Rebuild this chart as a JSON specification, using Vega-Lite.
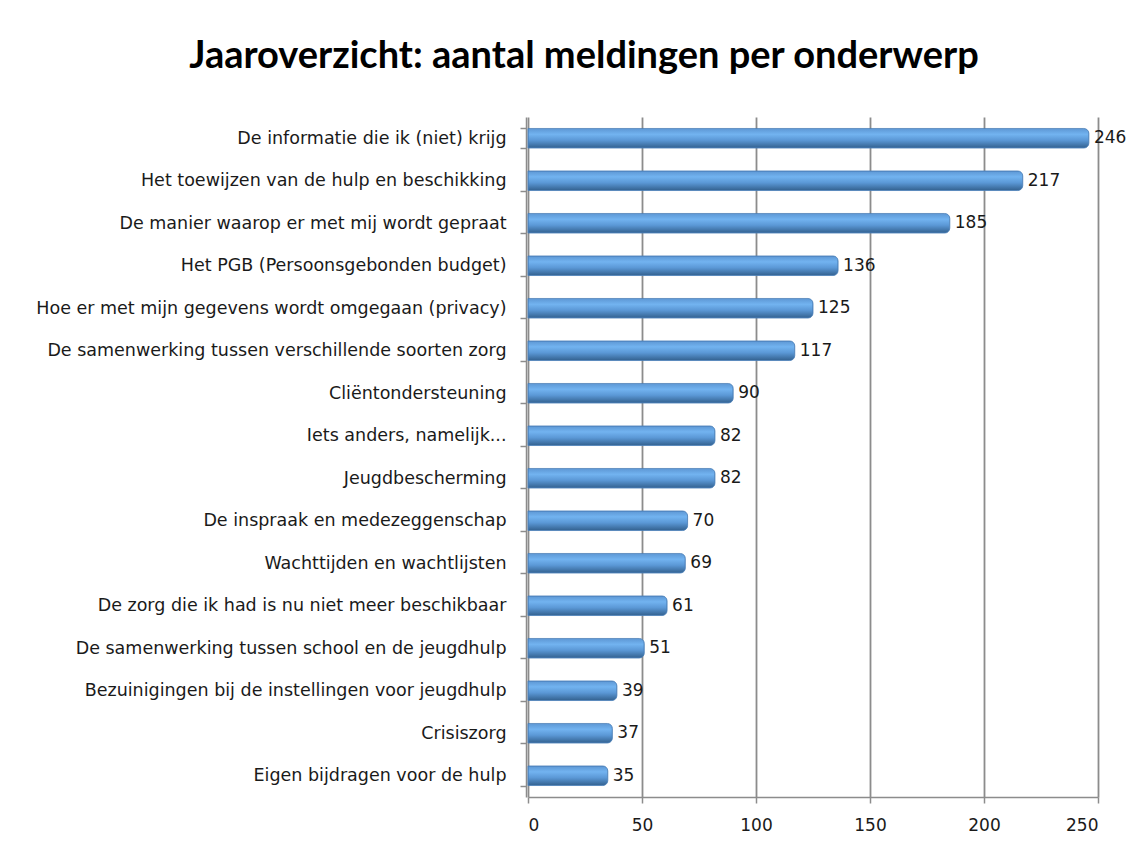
{
  "$schema": "https://vega.github.io/schema/vega-lite/v6.json",
  "autosize": {"type": "none"},
  "width": 570,
  "height": 680,
  "padding": {"left": 528, "top": 117, "right": 46, "bottom": 55},
  "background": "white",
  "title": {
    "text": "Jaaroverzicht: aantal meldingen per onderwerp",
    "font": "Lato",
    "fontSize": 38,
    "fontWeight": "bold",
    "color": "#000000",
    "anchor": "middle",
    "frame": "group",
    "dx": -229,
    "offset": 32
  },
  "data": {
    "values": [
      {"onderwerp": "De informatie die ik (niet) krijg", "aantal": 246},
      {"onderwerp": "Het toewijzen van de hulp en beschikking", "aantal": 217},
      {"onderwerp": "De manier waarop er met mij wordt gepraat", "aantal": 185},
      {"onderwerp": "Het PGB (Persoonsgebonden budget)", "aantal": 136},
      {"onderwerp": "Hoe er met mijn gegevens wordt omgegaan (privacy)", "aantal": 125},
      {"onderwerp": "De samenwerking tussen verschillende soorten zorg", "aantal": 117},
      {"onderwerp": "Cliëntondersteuning", "aantal": 90},
      {"onderwerp": "Iets anders, namelijk...", "aantal": 82},
      {"onderwerp": "Jeugdbescherming", "aantal": 82},
      {"onderwerp": "De inspraak en medezeggenschap", "aantal": 70},
      {"onderwerp": "Wachttijden en wachtlijsten", "aantal": 69},
      {"onderwerp": "De zorg die ik had is nu niet meer beschikbaar", "aantal": 61},
      {"onderwerp": "De samenwerking tussen school en de jeugdhulp", "aantal": 51},
      {"onderwerp": "Bezuinigingen bij de instellingen voor jeugdhulp", "aantal": 39},
      {"onderwerp": "Crisiszorg", "aantal": 37},
      {"onderwerp": "Eigen bijdragen voor de hulp", "aantal": 35}
    ]
  },
  "encoding": {
    "y": {
      "field": "onderwerp",
      "type": "nominal",
      "sort": null,
      "scale": {"paddingInner": 0.54, "paddingOuter": 0.27},
      "axis": {
        "title": null,
        "tickBand": "extent",
        "labelFont": "DejaVu Sans",
        "labelFontSize": 17.5,
        "labelColor": "#1a1a1a",
        "labelPadding": 14,
        "labelLimit": 520,
        "tickColor": "#8c8c8c",
        "tickSize": 6,
        "tickWidth": 1.5,
        "domainColor": "#8c8c8c",
        "domainWidth": 1.5,
        "grid": false,
        "offset": 2
      }
    },
    "x": {
      "field": "aantal",
      "type": "quantitative",
      "scale": {"domain": [0, 250], "nice": false},
      "axis": {
        "title": null,
        "values": [0, 50, 100, 150, 200, 250],
        "labelFont": "DejaVu Sans",
        "labelFontSize": 17,
        "labelColor": "#1a1a1a",
        "labelPadding": 14,
        "tickColor": "#8c8c8c",
        "tickSize": 6,
        "tickWidth": 1.5,
        "domainColor": "#8c8c8c",
        "domainWidth": 1.5,
        "grid": true,
        "gridColor": "#8c8c8c",
        "gridWidth": 1.8
      }
    }
  },
  "layer": [
    {
      "mark": {
        "type": "bar",
        "cornerRadiusEnd": 5,
        "stroke": "#4a7fb8",
        "strokeWidth": 0.8,
        "color": {
          "gradient": "linear",
          "x1": 0, "y1": 0, "x2": 0, "y2": 1,
          "stops": [
            {"offset": 0, "color": "#5d97d4"},
            {"offset": 0.3, "color": "#72b3f0"},
            {"offset": 0.6, "color": "#5b98d6"},
            {"offset": 1, "color": "#33618f"}
          ]
        }
      }
    },
    {
      "mark": {
        "type": "text",
        "align": "left",
        "baseline": "middle",
        "dx": 5,
        "font": "DejaVu Sans",
        "fontSize": 17,
        "color": "#1a1a1a"
      },
      "encoding": {"text": {"field": "aantal", "type": "quantitative"}}
    }
  ],
  "config": {"view": {"stroke": null}}
}
